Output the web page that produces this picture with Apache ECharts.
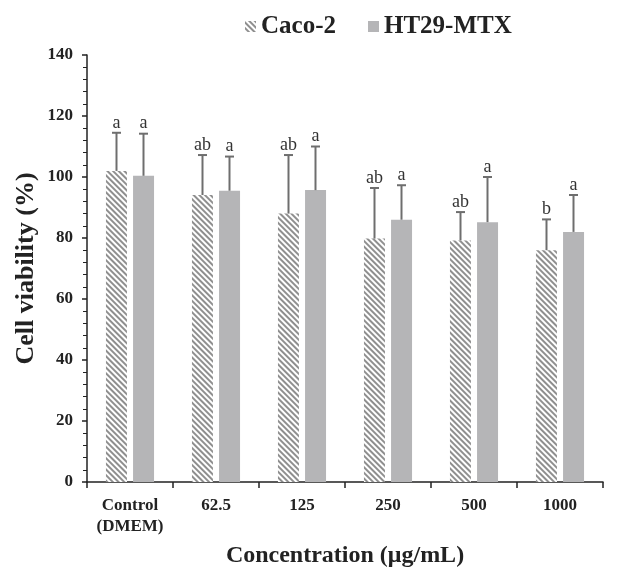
<!DOCTYPE html>
<html>
<head>
<meta charset="utf-8">
<script src="https://cdn.jsdelivr.net/npm/echarts@6/dist/echarts.min.js"></script>
<style>
  html, body { margin: 0; padding: 0; background: #fff; }
  #main { width: 630px; height: 573px; }
</style>
</head>
<body>
<div id="main"></div>
<script>
var categories = ['Control\n(DMEM)', '62.5', '125', '250', '500', '1000'];
var caco2 = [102.0, 94.1, 88.0, 79.8, 79.2, 76.0];
var caco2Err = [12.5, 13.1, 19.2, 16.6, 9.3, 10.1];
var caco2Letters = ['a', 'ab', 'ab', 'ab', 'ab', 'b'];
var ht29 = [100.4, 95.5, 95.7, 86.0, 85.2, 82.0];
var ht29Err = [13.8, 11.2, 14.3, 11.3, 14.8, 12.1];
var ht29Letters = ['a', 'a', 'a', 'a', 'a', 'a'];

var serif = '"Liberation Serif", "DejaVu Serif", serif';
var BAR_W = 21;
var BAR_GAP = 6;

// error bar (upper only) + letter, drawn at the bar centre
function errRenderer(offset, letters) {
  return function (params, api) {
    var c = api.value(0);
    var base = api.coord([c, api.value(1)]);
    var top = api.coord([c, api.value(2)]);
    var x = base[0] + offset;
    var st = { stroke: '#6e6e6e', lineWidth: 2 };
    return {
      type: 'group',
      children: [
        { type: 'line', shape: { x1: x, y1: base[1], x2: x, y2: top[1] }, style: st },
        { type: 'line', shape: { x1: x - 4.5, y1: top[1], x2: x + 4.5, y2: top[1] }, style: st },
        { type: 'text', style: { text: letters[params.dataIndex], x: x, y: top[1] - 1,
            align: 'center', verticalAlign: 'bottom', font: '18px ' + serif, fill: '#333' } }
      ]
    };
  };
}

function errData(vals, errs) {
  return vals.map(function (v, i) { return [i, v, v + errs[i]]; });
}

var chart = echarts.init(document.getElementById('main'));
var option = {
  backgroundColor: '#fff',
  animation: false,
  legend: {
    top: 9,
    left: 240,
    icon: 'rect',
    itemWidth: 11,
    itemHeight: 11,
    itemGap: 32,
    textStyle: { fontFamily: serif, fontWeight: 'bold', fontSize: 25, color: '#222' },
    data: ['Caco-2', 'HT29-MTX']
  },
  grid: { left: 87, right: 27, top: 55, bottom: 88 },
  xAxis: {
    type: 'category',
    data: categories,
    name: 'Concentration (μg/mL)',
    nameLocation: 'middle',
    nameGap: 62,
    nameTextStyle: { fontFamily: serif, fontWeight: 'bold', fontSize: 24, color: '#222' },
    axisLine: { lineStyle: { color: '#222', width: 1.5 } },
    axisTick: { show: true, interval: 0, length: 6, lineStyle: { color: '#222', width: 1.5 } },
    axisLabel: { interval: 0, fontFamily: serif, fontWeight: 'bold', fontSize: 17, color: '#222', margin: 13, lineHeight: 21 }
  },
  yAxis: {
    type: 'value',
    min: 0,
    max: 140,
    interval: 20,
    name: 'Cell viability (%)',
    nameLocation: 'middle',
    nameGap: 48,
    nameMoveOverlap: false,
    nameRotate: 90,
    nameTextStyle: { fontFamily: serif, fontWeight: 'bold', fontSize: 26, color: '#222' },
    axisLine: { show: true, lineStyle: { color: '#222', width: 1.5 } },
    axisTick: { show: true, length: 5, lineStyle: { color: '#222', width: 1.5 } },
    minorTick: { show: true, splitNumber: 5, length: 4, lineStyle: { color: '#222', width: 1 } },
    splitLine: { show: false },
    axisLabel: { fontFamily: serif, fontWeight: 'bold', fontSize: 17, color: '#222', margin: 14 }
  },
  series: [{
    name: 'Caco-2',
    type: 'bar',
    barWidth: BAR_W,
    barGap: (BAR_GAP / BAR_W * 100).toFixed(0) + '%',
    itemStyle: {
      color: '#ffffff',
      decal: {
        symbol: 'rect',
        symbolSize: 1,
        color: '#8f8f8f',
        dashArrayX: [1, 0],
        dashArrayY: [2, 2],
        rotation: Math.PI / 4
      }
    },
    data: caco2
  }, {
    name: 'HT29-MTX',
    type: 'bar',
    barWidth: BAR_W,
    itemStyle: { color: '#b5b5b7' },
    data: ht29
  }, {
    type: 'custom',
    z: 5,
    renderItem: errRenderer(-(BAR_W + BAR_GAP) / 2, caco2Letters),
    data: errData(caco2, caco2Err)
  }, {
    type: 'custom',
    z: 5,
    renderItem: errRenderer((BAR_W + BAR_GAP) / 2, ht29Letters),
    data: errData(ht29, ht29Err)
  }]
};
chart.setOption(option);
</script>
</body>
</html>
